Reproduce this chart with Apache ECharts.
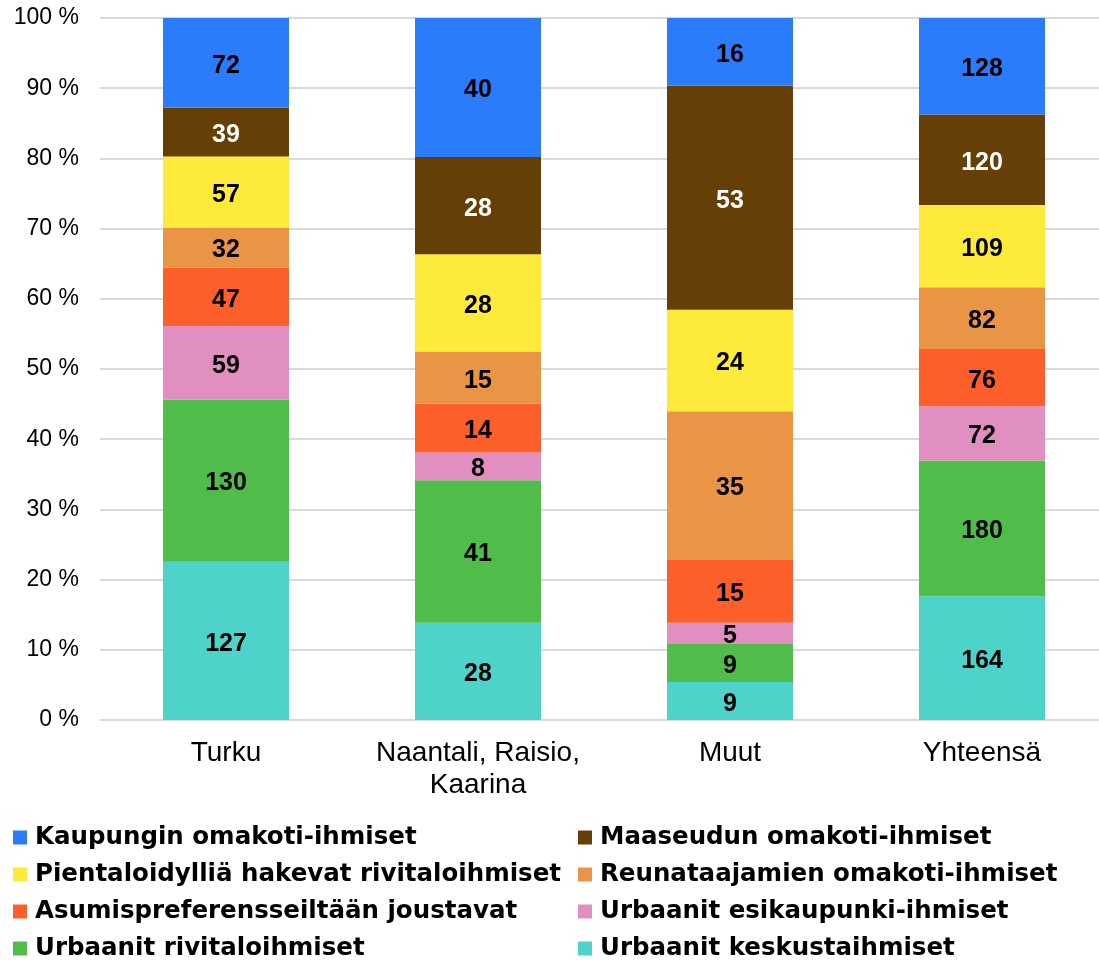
<!DOCTYPE html>
<html>
<head>
<meta charset="utf-8">
<script src="https://cdn.jsdelivr.net/npm/echarts@6/dist/echarts.min.js"></script>
<style>
  html, body { margin: 0; padding: 0; background: #fff; }
  #chart { width: 1099px; height: 960px; }
</style>
</head>
<body>
<div id="chart"></div>
<script>
// alueet
const categories = ["Turku", "Naantali, Raisio,\nKaarina", "Muut", "Yhteensä"];

// sarjat alhaalta ylös (lukumäärät)
const keskusta = [127, 28, 9, 164];
const rivitalo = [130, 41, 9, 180];
const esikaupunki = [59, 8, 5, 72];
const joustavat = [47, 14, 15, 76];
const reuna = [32, 15, 35, 82];
const pientalo = [57, 28, 24, 109];
const maaseutu = [39, 28, 53, 120];
const kaupunki = [72, 40, 16, 128];

const yTicks = [0, 10, 20, 30, 40, 50, 60, 70, 80, 90, 100];

const seriesDefs = [
  { name: "Urbaanit keskustaihmiset", data: keskusta, color: "#4dd3c9", label: "#000" },
  { name: "Urbaanit rivitaloihmiset", data: rivitalo, color: "#50bd4b", label: "#000" },
  { name: "Urbaanit esikaupunki-ihmiset", data: esikaupunki, color: "#e18ec0", label: "#000" },
  { name: "Asumispreferensseiltään joustavat", data: joustavat, color: "#fd5f2a", label: "#000" },
  { name: "Reunataajamien omakoti-ihmiset", data: reuna, color: "#ea9446", label: "#000" },
  { name: "Pientaloidylliä hakevat rivitaloihmiset", data: pientalo, color: "#fdea3a", label: "#000" },
  { name: "Maaseudun omakoti-ihmiset", data: maaseutu, color: "#653f06", label: "#fff" },
  { name: "Kaupungin omakoti-ihmiset", data: kaupunki, color: "#2b7cfb", label: "#000" },
];

// summat per alue -> prosentit
const totals = categories.map((c, i) => seriesDefs.reduce((s, d) => s + d.data[i], 0));

let myChart = echarts.init(document.getElementById("chart"));

const legendBase = {
  orient: "vertical",
  top: 825,
  height: 200,
  itemWidth: 14,
  itemHeight: 14,
  itemGap: 12,
  icon: "rect",
  padding: 0,
  textStyle: {
    fontFamily: "DejaVu Sans, sans-serif",
    fontSize: 24.5,
    fontWeight: "bold",
    color: "#000",
    lineHeight: 24,
    padding: [0, 0, 0, 3],
  },
};

myChart.setOption({
  animation: false,
  grid: {
    left: 100,
    top: 18,
    width: 1008,
    height: 702,
    containLabel: false,
    outerBoundsMode: "none",
  },
  legend: [
    Object.assign({}, legendBase, {
      left: 13,
      data: [
        "Kaupungin omakoti-ihmiset",
        "Pientaloidylliä hakevat rivitaloihmiset",
        "Asumispreferensseiltään joustavat",
        "Urbaanit rivitaloihmiset",
      ],
    }),
    Object.assign({}, legendBase, {
      left: 578,
      data: [
        "Maaseudun omakoti-ihmiset",
        "Reunataajamien omakoti-ihmiset",
        "Urbaanit esikaupunki-ihmiset",
        "Urbaanit keskustaihmiset",
      ],
    }),
  ],
  xAxis: {
    type: "category",
    data: categories,
    axisLine: { show: false },
    axisTick: { show: false },
    axisLabel: {
      interval: 0,
      margin: 17,
      fontFamily: "Liberation Sans, Arial, sans-serif",
      fontSize: 28,
      color: "#000",
      lineHeight: 32,
    },
  },
  yAxis: {
    type: "value",
    min: yTicks[0],
    max: yTicks[yTicks.length - 1],
    interval: 10,
    axisLine: { show: false },
    axisTick: { show: false },
    splitLine: { lineStyle: { color: "#d9d9d9", width: 2 } },
    axisLabel: {
      margin: 21,
      formatter: "{value} %",
      fontFamily: "Liberation Sans, Arial, sans-serif",
      fontSize: 23,
      color: "#000",
    },
  },
  series: seriesDefs.map((d) => ({
    name: d.name,
    type: "bar",
    stack: "total",
    barWidth: "50%",
    itemStyle: { color: d.color },
    label: {
      show: true,
      position: "inside",
      offset: [0, 3],
      fontFamily: "Liberation Sans, Arial, sans-serif",
      fontSize: 25,
      fontWeight: "bold",
      color: d.label,
      formatter: (p) => d.data[p.dataIndex],
    },
    data: d.data.map((v, i) => (v / totals[i]) * 100),
  })),
});
</script>
</body>
</html>
